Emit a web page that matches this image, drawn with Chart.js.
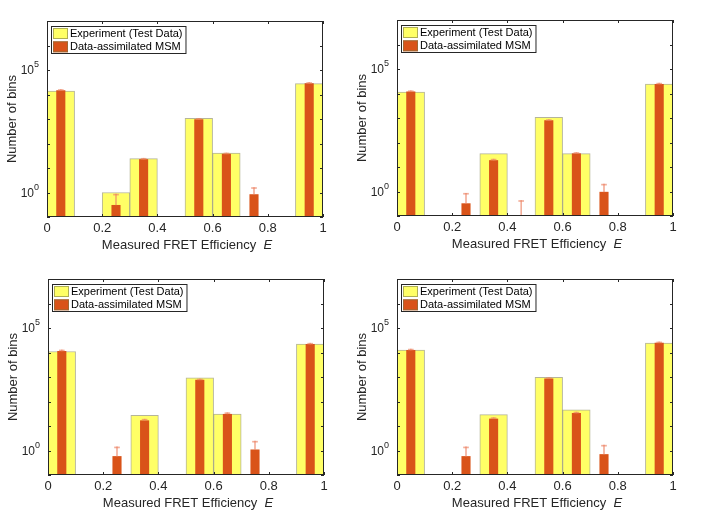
<!DOCTYPE html>
<html>
<head>
<meta charset="utf-8">
<script src="https://cdn.jsdelivr.net/npm/chart.js@4.4.0/dist/chart.umd.min.js"></script>
<style>
  body { margin: 0; background: #fff; width: 708px; height: 511px; overflow: hidden; position: relative; }
  canvas { position: absolute; }
</style>
</head>
<body>
<canvas id="panel1" width="340" height="254" style="left:0px;top:0px"></canvas>
<canvas id="panel2" width="340" height="254" style="left:350px;top:-1px"></canvas>
<canvas id="panel3" width="340" height="254" style="left:1px;top:258px"></canvas>
<canvas id="panel4" width="340" height="254" style="left:350px;top:258px"></canvas>
<script>
// histogram bin centres (bin width 0.1)
const binCenters = [0.05, 0.15, 0.25, 0.35, 0.45, 0.55, 0.65, 0.75, 0.85, 0.95];

// top-left
const experiment1 = [13900, null, 1, 24, null, 1070, 41, null, null, 27700];
const msm1 = [14800, null, 0.31, 23, null, 975, 38, 0.85, null, 28700];
const errTop1 = [16000, null, 0.86, 25, null, 1060, 41, 1.6, null, 31000];

// top-right
const experiment2 = [11300, null, null, 35, null, 1065, 35, null, null, 24000];
const msm2 = [12000, null, 0.33, 19, 0.05, 800, 36, 0.97, null, 24500];
const errTop2 = [13000, null, 0.85, 21, 0.43, 860, 39, 2.0, null, 26500];

// bottom-left
const experiment3 = [11000, null, null, 27, null, 930, 31, null, null, 22000];
const msm3 = [11500, null, 0.59, 17, null, 770, 31, 1.1, null, 22000];
const errTop3 = [12700, null, 1.4, 19, null, 830, 35, 2.4, null, 24000];

// bottom-right
const experiment4 = [12600, null, null, 29, null, 980, 46, null, null, 24000];
const msm4 = [12600, null, 0.59, 20, null, 870, 34, 0.71, null, 25000];
const errTop4 = [13800, null, 1.4, 22, null, 940, 37, 1.65, null, 27000];

const xTickStep = 0.2;
const yDecades = [0.1, 1, 10, 100, 1000, 1e4, 1e5, 1e6, 1e7];
const yLabelled = [1, 1e5];
const yExponents = ['0', '5'];

const YELLOW = '#ffff66';
const ORANGE = '#d95319';
const ERR_COLOR = 'rgba(236, 130, 100, 0.65)';
const AXIS_COLOR = '#262626';
const FONT = '"Liberation Sans", Arial, Helvetica, sans-serif';

// box, inward ticks, 10^n labels, legend and x label drawn like MATLAB does it
const matlabAxes = {
  id: 'matlabAxes',
  afterDraw(chart) {
    const { ctx, chartArea: a } = chart;
    const xs = chart.scales.x, ys = chart.scales.y;
    ctx.save();
    ctx.strokeStyle = AXIS_COLOR;
    ctx.lineWidth = 1;
    ctx.strokeRect(a.left + 0.5, a.top + 0.5, a.width - 1, a.height - 1);

    ctx.beginPath();
    xs.ticks.forEach(t => {
      const px = Math.round(xs.getPixelForValue(t.value)) + 0.5;
      ctx.moveTo(px, a.bottom); ctx.lineTo(px, a.bottom - 3);
      ctx.moveTo(px, a.top); ctx.lineTo(px, a.top + 3);
    });
    ys.ticks.forEach(t => {
      const py = Math.round(ys.getPixelForValue(t.value)) + 0.5;
      ctx.moveTo(a.left, py); ctx.lineTo(a.left + 3, py);
      ctx.moveTo(a.right, py); ctx.lineTo(a.right - 3, py);
    });
    ctx.stroke();

    // y labels as 10 with a raised exponent
    ctx.fillStyle = AXIS_COLOR;
    ctx.textBaseline = 'middle';
    yLabelled.forEach((v, k) => {
      const py = ys.getPixelForValue(v);
      ctx.font = '9px ' + FONT;
      const we = ctx.measureText(yExponents[k]).width;
      ctx.textAlign = 'right';
      ctx.fillText(yExponents[k], a.left - 8, py - 5);
      ctx.font = '12px ' + FONT;
      ctx.fillText('10', a.left - 8 - we, py + 1);
    });
    ctx.textAlign = 'left';

    // x label with italic E
    const main = 'Measured FRET Efficiency  ';
    ctx.font = '13px ' + FONT;
    const w1 = ctx.measureText(main).width;
    ctx.font = 'italic 13px ' + FONT;
    const w2 = ctx.measureText('E').width;
    const start = (a.left + a.right) / 2 - (w1 + w2) / 2 + 2;
    ctx.font = '13px ' + FONT;
    ctx.fillText(main, start, a.bottom + 28);
    ctx.font = 'italic 13px ' + FONT;
    ctx.fillText('E', start + w1, a.bottom + 28);

    // legend
    const items = chart.data.datasets.filter(d => d.label);
    ctx.font = '11px ' + FONT;
    const textW = Math.max(...items.map(d => ctx.measureText(d.label).width));
    const bx = a.left + 4, by = a.top + 5;
    ctx.fillStyle = '#fff';
    ctx.fillRect(bx, by, textW + 22, 27);
    ctx.strokeRect(bx + 0.5, by + 0.5, textW + 22, 27);
    items.forEach((d, i) => {
      const sy = by + 2 + i * 13.3;
      ctx.fillStyle = d.backgroundColor;
      ctx.fillRect(bx + 2, sy, 15, 11);
      ctx.strokeStyle = 'rgba(120,120,70,0.6)';
      ctx.strokeRect(bx + 2.5, sy + 0.5, 14, 10);
      ctx.fillStyle = '#000';
      ctx.fillText(d.label, bx + 19, sy + 6);
    });
    ctx.restore();
  }
};

function makePanel(id, experiment, msm, errTop) {
  const stems = [], caps = [];
  binCenters.forEach((x, i) => {
    if (errTop[i] == null) return;
    stems.push({ x, y: [msm[i] == null ? 0.01 : msm[i], errTop[i]] });
    caps.push({ x, y: [errTop[i] / 1.1, errTop[i]] });
  });

  new Chart(document.getElementById(id), {
    type: 'bar',
    data: {
      datasets: [
        {
          label: 'Experiment (Test Data)',
          data: binCenters.map((x, i) => ({ x, y: experiment[i] })),
          backgroundColor: YELLOW,
          borderColor: 'rgba(120,120,70,0.55)',
          borderWidth: 1,
          categoryPercentage: 1,
          barPercentage: 1,
          grouped: false,
          clip: 0,
          order: 3,
        },
        {
          label: 'Data-assimilated MSM',
          data: binCenters.map((x, i) => ({ x, y: msm[i] })),
          backgroundColor: ORANGE,
          categoryPercentage: 1,
          barPercentage: 0.33,
          grouped: false,
          clip: 0,
          order: 2,
        },
        {
          data: stems,
          backgroundColor: ERR_COLOR,
          barThickness: 1,
          grouped: false,
          clip: 0,
          order: 1,
        },
        {
          data: caps,
          backgroundColor: ERR_COLOR,
          barThickness: 5,
          grouped: false,
          clip: 0,
          order: 1,
        },
      ],
    },
    options: {
      responsive: false,
      animation: false,
      layout: { padding: { left: 0, top: 21, right: 17, bottom: 0 } },
      plugins: { legend: { display: false }, tooltip: { enabled: false } },
      scales: {
        x: {
          type: 'linear',
          min: 0,
          max: 1,
          offset: false,
          afterFit: s => { s.height = 37; },
          grid: { display: false, drawTicks: false },
          border: { display: false },
          ticks: {
            stepSize: xTickStep,
            padding: 4,
            color: AXIS_COLOR,
            font: { size: 13, family: FONT },
            callback: v => String(Number(v.toFixed(2))),
          },
        },
        y: {
          type: 'logarithmic',
          min: 0.1,
          max: 1e7,
          afterBuildTicks: s => { s.ticks = yDecades.map(v => ({ value: v })); },
          afterFit: s => { s.width = 47; },
          grid: { display: false, drawTicks: false },
          border: { display: false },
          ticks: { display: false },
          title: {
            display: true,
            text: 'Number of bins',
            color: AXIS_COLOR,
            font: { size: 13, family: FONT },
            padding: { top: 5, bottom: 0 },
          },
        },
      },
    },
    plugins: [matlabAxes],
  });
}

makePanel('panel1', experiment1, msm1, errTop1);
makePanel('panel2', experiment2, msm2, errTop2);
makePanel('panel3', experiment3, msm3, errTop3);
makePanel('panel4', experiment4, msm4, errTop4);
</script>
</body>
</html>
